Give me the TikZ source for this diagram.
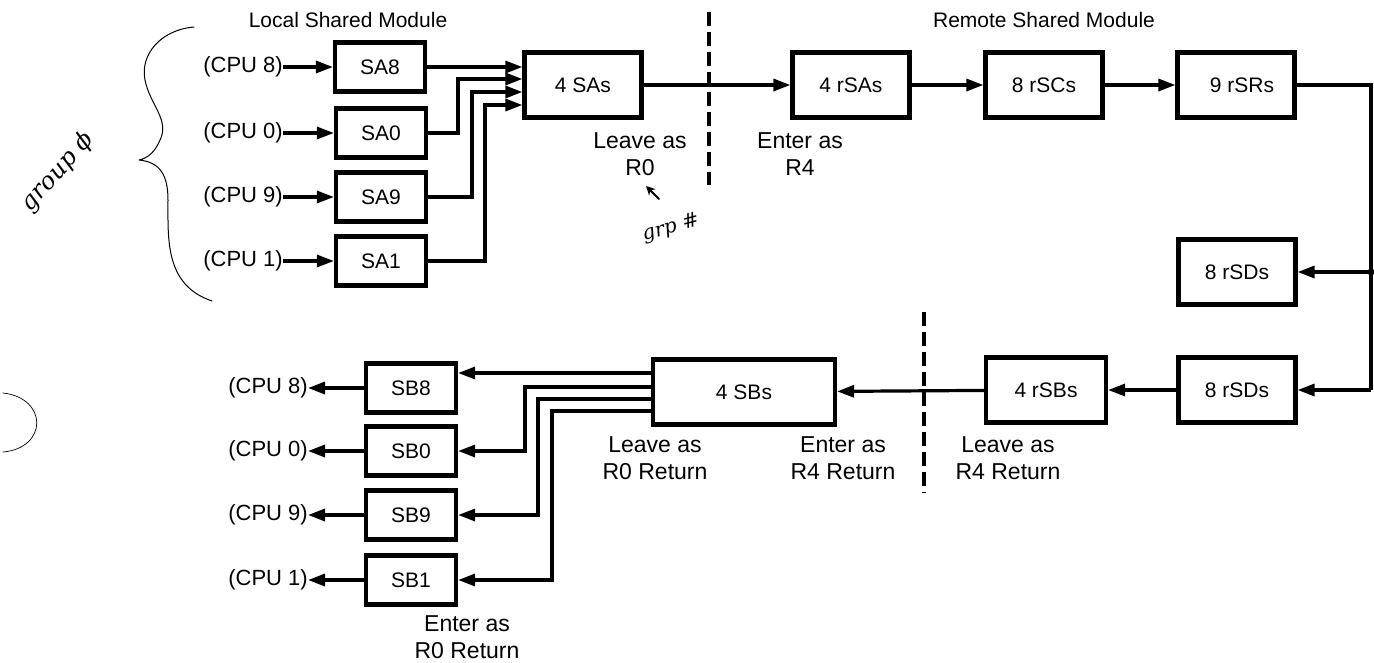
\documentclass[tikz,border=0pt]{standalone}
\usepackage{fontspec}
\setmainfont{Liberation Sans}
\newfontfamily\handfont{DejaVu Serif}
\usetikzlibrary{arrows.meta}
\begin{document}
\begin{tikzpicture}[x=1pt,y=-1pt,
 box/.style={draw,line width=4.2pt,minimum height=49pt,minimum width=90pt,inner sep=0pt,font=\fontsize{21}{24}\selectfont},
 bigbox/.style={box,minimum height=65pt,minimum width=117pt},
 lbl/.style={font=\fontsize{21}{24}\selectfont,inner sep=0pt},
 cpu/.style={font=\fontsize{22}{24}\selectfont,inner sep=0pt},
 note/.style={font=\fontsize{23}{27}\selectfont,align=center,inner sep=0pt},
 conn/.style={line width=3.2pt},
 arr/.style={conn,-{Triangle[length=17pt,width=12pt]}},
 sep/.style={line width=3.5pt,dash pattern=on 14pt off 6pt},
 hand/.style={line width=1pt,line cap=round,line join=round},
 handtext/.style={font=\handfont\itshape\fontsize{24}{26}\selectfont,inner sep=0pt}]
\useasboundingbox (0,0) rectangle (1374,662);

% headers
\node[lbl] (hl) at (348,20) {Local Shared Module};
\node[lbl] (hr) at (1044,20) {Remote Shared Module};

% top-left SA boxes
\node[box] (sa8) at (380,67) {SA8};
\node[box] (sa0) at (381,133) {SA0};
\node[box] (sa9) at (381,197) {SA9};
\node[box] (sa1) at (381,261) {SA1};
\node[cpu,anchor=east] (c8) at (283,67) {(CPU 8)};
\node[cpu,anchor=east] (c0) at (283,133) {(CPU 0)};
\node[cpu,anchor=east] (c9) at (283,197) {(CPU 9)};
\node[cpu,anchor=east] (c1) at (283,261) {(CPU 1)};
\draw[arr] (c8) -- (sa8);
\draw[arr] (c0) -- (sa0);
\draw[arr] (c9) -- (sa9);
\draw[arr] (c1) -- (sa1);

% top row
\node[bigbox] (sas) at (583,85) {4 SAs};
\node[bigbox] (rsas) at (851,85) {4 rSAs};
\node[bigbox] (rscs) at (1044,85) {8 rSCs};
\node[bigbox] (rsrs) at (1236,85) {\hspace{12pt}9 rSRs};

\coordinate (j0) at (458,79);
\coordinate (j9) at (472,92);
\coordinate (j1) at (485,105);
\draw[arr] (sa8.east) -- (sa8.east -| sas.west);
\draw[arr] (sa0.east) -| (j0) -- (j0 -| sas.west);
\draw[arr] (sa9.east) -| (j9) -- (j9 -| sas.west);
\draw[arr] (sa1.east) -| (j1) -- (j1 -| sas.west);

\draw[arr] (sas) -- (rsas);
\draw[arr] (rsas) -- (rscs);
\draw[arr] (rscs) -- (rsrs);

% right side
\node[bigbox] (rsd1) at (1237,272) {8 rSDs};
\node[bigbox] (rsd2) at (1237,390) {8 rSDs};
\coordinate (rc) at (1371,85);
\coordinate (br) at (1371,272);
\coordinate (rb) at (1371,390);
\draw[conn] (rsrs.east) -- (rc) -- (rb);
\draw[arr] (br) -- (rsd1.east);
\fill (br) circle (3.5pt);
\draw[arr] (rb) -- (rsd2.east);

% bottom row
\node[bigbox,minimum width=120pt] (rsbs) at (1046,390) {4 rSBs};
\node[bigbox,minimum width=182pt] (sbs) at (744,392) {4 SBs};
\draw[arr] (rsd2) -- (rsbs);
\draw[arr] (rsbs) -- (sbs);

\node[box] (sb8) at (411,388) {SB8};
\node[box] (sb0) at (411,451) {SB0};
\node[box] (sb9) at (411,515) {SB9};
\node[box] (sb1) at (411,580) {SB1};
\node[cpu,anchor=east] (d8) at (308,388) {(CPU 8)};
\node[cpu,anchor=east] (d0) at (308,451) {(CPU 0)};
\node[cpu,anchor=east] (d9) at (308,515) {(CPU 9)};
\node[cpu,anchor=east] (d1) at (308,580) {(CPU 1)};
\draw[arr] (sb8) -- (d8);
\draw[arr] (sb0) -- (d0);
\draw[arr] (sb9) -- (d9);
\draw[arr] (sb1) -- (d1);

\coordinate (k8) at (0,373);
\coordinate (k0) at (525,387);
\coordinate (k9) at (538,399);
\coordinate (k1) at (552,411);
\draw[arr] (sbs.west |- k8) -- (sb8.east |- k8);
\draw[arr] (sbs.west |- k0) -- (k0) |- (sb0.east);
\draw[arr] (sbs.west |- k9) -- (k9) |- (sb9.east);
\draw[arr] (sbs.west |- k1) -- (k1) |- (sb1.east);

% dashed separators
\coordinate (s1t) at (709,12);
\coordinate (s1b) at (709,185);
\coordinate (s2t) at (924,312);
\coordinate (s2b) at (924,493);
\draw[sep] (s1t) -- (s1b);
\draw[sep] (s2t) -- (s2b);

% labels
\node[note] (lv0) at (640,154) {Leave as\\R0};
\node[note] (en4) at (800,154) {Enter as\\R4};
\node[note] (lv0r) at (655,458) {Leave as\\R0 Return};
\node[note] (en4r) at (843,458) {Enter as\\R4 Return};
\node[note] (lv4r) at (1008,458) {Leave as\\R4 Return};
\node[note] (en0r) at (467,637) {Enter as\\R0 Return};

% handwritten annotations
\draw[hand] (194,27) .. controls (160,30) and (140,55) .. (145,80)
  .. controls (150,105) and (170,120) .. (160,140)
  .. controls (155,152) and (148,158) .. (139,160)
  .. controls (160,162) and (168,175) .. (168,200)
  .. controls (168,240) and (165,285) .. (212,301);
\node[handtext,rotate=48] (grp) at (58,172) {group ϕ};
\node[handtext,rotate=15,font=\handfont\itshape\fontsize{20}{22}\selectfont] (gnum) at (671,228) {grp \#};
\coordinate (ga) at (659,199);
\coordinate (gb) at (646,186);
\draw[hand,line width=2pt,-{Stealth[length=9pt,width=9pt]}] (ga) -- (gb);
\draw[hand,line width=0.7pt] (3,393) .. controls (48,398) and (48,448) .. (3,452);
\end{tikzpicture}
\end{document}
